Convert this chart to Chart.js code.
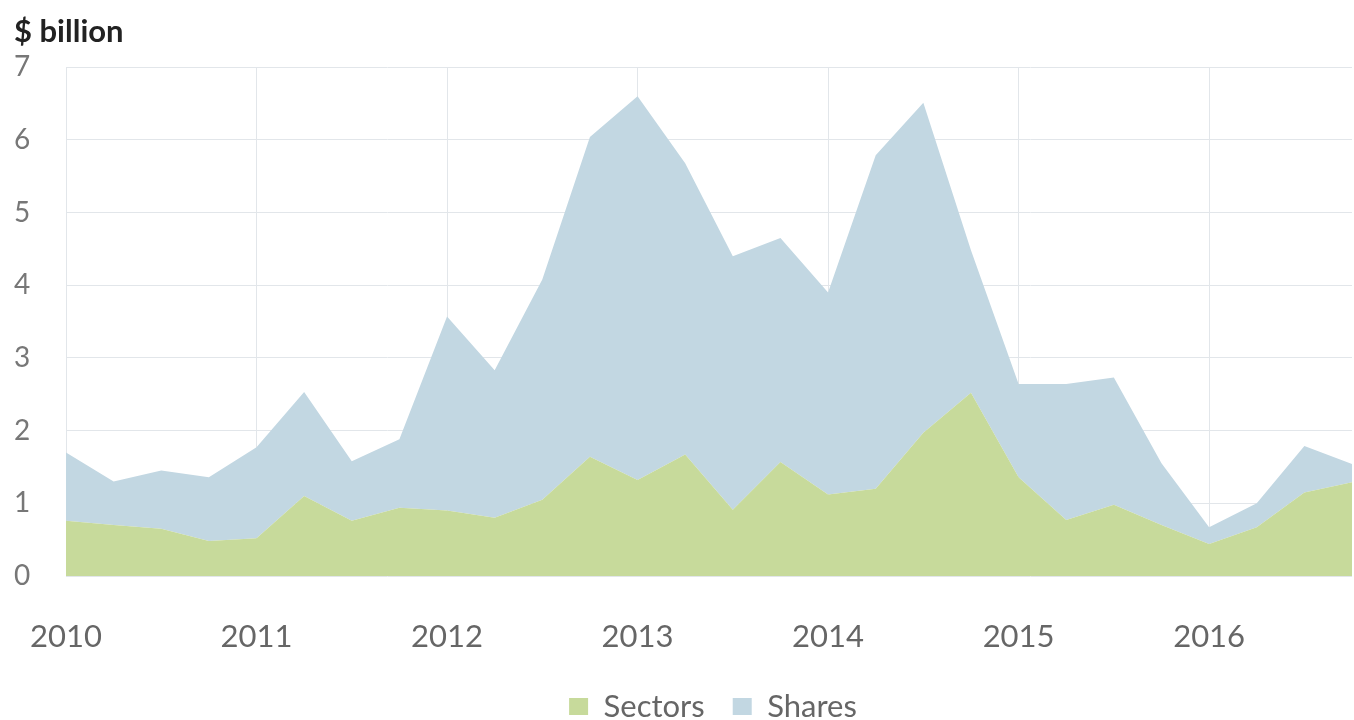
<!DOCTYPE html>
<html>
<head>
<meta charset="utf-8">
<script src="https://cdn.jsdelivr.net/npm/chart.js@4"></script>
<style>
  html, body { margin: 0; padding: 0; background: #fff; }
  #wrap { width: 1354px; height: 720px; position: relative; }
</style>
</head>
<body>
<div id="wrap"><canvas id="chart"></canvas></div>
<script>
// quarterly values, $ billion, 2010 Q1 .. 2016 Q4
const years = ['2010', '2011', '2012', '2013', '2014', '2015', '2016'];
const quarters = ['Q1', 'Q2', 'Q3', 'Q4'];

const sectors = [0.76, 0.70, 0.65, 0.48, 0.52, 1.10, 0.76, 0.94,
                 0.90, 0.80, 1.05, 1.64, 1.32, 1.67, 0.91, 1.57,
                 1.12, 1.20, 1.97, 2.52, 1.36, 0.77, 0.98, 0.70,
                 0.44, 0.67, 1.15, 1.29];
const shares = [0.94, 0.60, 0.80, 0.88, 1.25, 1.43, 0.82, 0.94,
                2.67, 2.03, 3.03, 4.40, 5.28, 4.01, 3.49, 3.08,
                2.78, 4.59, 4.54, 1.96, 1.28, 1.87, 1.75, 0.85,
                0.23, 0.33, 0.64, 0.25];

const labels = [];
years.forEach(y => quarters.forEach(q => labels.push(y + ' ' + q)));

const fontFamily = 'Lato, "Liberation Sans", sans-serif';

// legend sits a little right of centre in the original
const nudgeLegend = {
    id: 'nudgeLegend',
    afterLayout(chart) {
        if (chart.legend) {
            chart.legend.left += 30;
            chart.legend.right += 30;
        }
    }
};

new Chart(document.getElementById('chart'), {
    type: 'line',
    data: {
        labels: labels,
        datasets: [
            {
                label: 'Sectors',
                data: sectors,
                backgroundColor: '#c7da9b',
                borderWidth: 0,
                pointRadius: 0,
                fill: 'origin'
            },
            {
                label: 'Shares',
                data: shares,
                backgroundColor: '#c2d7e2',
                borderWidth: 0,
                pointRadius: 0,
                fill: '-1'
            }
        ]
    },
    plugins: [nudgeLegend],
    options: {
        responsive: true,
        maintainAspectRatio: false,
        animation: false,
        layout: { padding: { left: 14, right: 2, top: 13, bottom: -12 } },
        plugins: {
            title: {
                display: true,
                text: '$ billion',
                align: 'start',
                color: '#222',
                font: { family: fontFamily, size: 31, weight: 'bold' },
                padding: { top: 0, bottom: 17 }
            },
            legend: {
                position: 'bottom',
                labels: {
                    boxWidth: 19,
                    boxHeight: 17,
                    color: '#666',
                    font: { family: fontFamily, size: 31 },
                    padding: 28
                }
            },
            tooltip: { enabled: false }
        },
        scales: {
            x: {
                offset: false,
                grid: {
                    color: (c) => (c.index % 4 === 0 ? '#e2e6ea' : 'transparent'),
                    drawTicks: false
                },
                border: { display: false },
                afterFit: (s) => {
                    s.paddingLeft = 0;
                    s.paddingRight = 0;
                    s.height = 87;
                },
                ticks: {
                    autoSkip: false,
                    maxRotation: 0,
                    padding: 42,
                    color: '#666',
                    font: { family: fontFamily, size: 31 },
                    callback: (v, i) => (i % 4 === 0 ? years[i / 4] : '')
                }
            },
            y: {
                stacked: true,
                min: 0,
                max: 7,
                grid: { color: '#e2e6ea', drawTicks: false },
                border: { display: false },
                afterFit: (s) => { s.width = 52; },
                ticks: {
                    stepSize: 1,
                    crossAlign: 'far',
                    padding: 10,
                    color: '#777',
                    font: { family: fontFamily, size: 28 }
                }
            }
        }
    }
});
</script>
</body>
</html>
